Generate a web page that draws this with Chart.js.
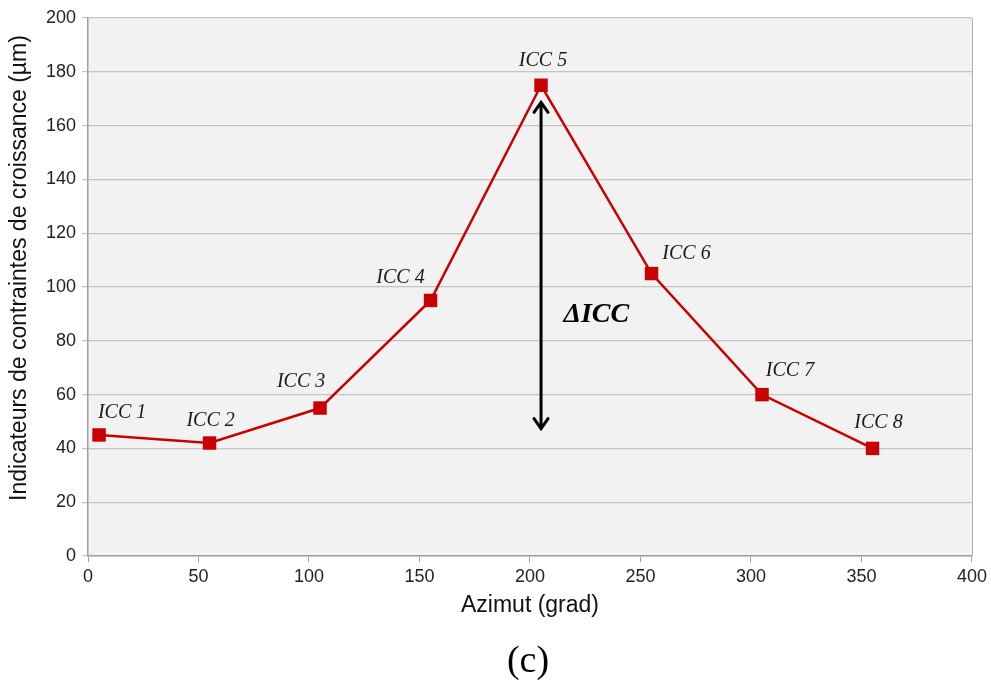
<!DOCTYPE html>
<html>
<head>
<meta charset="utf-8">
<script src="https://cdn.jsdelivr.net/npm/chart.js@4.4.0/dist/chart.umd.min.js"></script>
<style>
  html, body { margin: 0; padding: 0; background: #ffffff; }
  #wrap { width: 991px; height: 686px; position: relative; }
</style>
</head>
<body>
<div id="wrap"><canvas id="c" width="991" height="686"></canvas></div>
<script>
// ---- data ----
const azimuts = [5, 55, 105, 155, 205, 255, 305, 355];
const iccValues = [45, 42, 55, 95, 175, 105, 60, 40];
const iccLabels = ['ICC 1', 'ICC 2', 'ICC 3', 'ICC 4', 'ICC 5', 'ICC 6', 'ICC 7', 'ICC 8'];
const arrowX = 205;
const arrowTop = 169;
const arrowBottom = 47;
const deltaLabel = 'ΔICC';
const xTitle = 'Azimut (grad)';
const yTitle = 'Indicateurs de contraintes de croissance (µm)';
const caption = '(c)';

const RED = '#c80000';

const decorPlugin = {
  id: 'decor',
  beforeDraw(chart) {
    const { ctx, chartArea: a } = chart;
    ctx.save();
    ctx.fillStyle = '#f2f2f2';
    ctx.fillRect(a.left, a.top, a.right - a.left, a.bottom - a.top);
    ctx.restore();
  },
  afterDatasetsDraw(chart, args, opts) {
    const { ctx, chartArea: a, scales } = chart;
    const xs = scales.x, ys = scales.y;
    ctx.save();
    // right border
    ctx.strokeStyle = '#b0b0b0';
    ctx.lineWidth = 1;
    ctx.beginPath();
    ctx.moveTo(Math.round(a.right) + 0.5, a.top);
    ctx.lineTo(Math.round(a.right) + 0.5, a.bottom);
    ctx.stroke();

    // y title
    ctx.save();
    ctx.translate(20, 268);
    ctx.rotate(-Math.PI / 2);
    ctx.fillStyle = '#111';
    ctx.font = '23px "Liberation Sans", Arial, sans-serif';
    ctx.textAlign = 'center';
    ctx.textBaseline = 'middle';
    ctx.fillText(yTitle, 0, 0);
    ctx.restore();

    // point labels
    ctx.fillStyle = '#1a1a1a';
    ctx.font = 'italic 20px "Liberation Serif", "Times New Roman", serif';
    ctx.textAlign = 'center';
    ctx.textBaseline = 'middle';
    const offs = opts.labelOffsets;
    azimuts.forEach((az, i) => {
      const px = xs.getPixelForValue(az);
      const py = ys.getPixelForValue(iccValues[i]);
      ctx.fillText(iccLabels[i], px + offs[i][0], py + offs[i][1]);
    });

    // arrow
    const ax = xs.getPixelForValue(arrowX);
    const yT = ys.getPixelForValue(arrowTop);
    const yB = ys.getPixelForValue(arrowBottom);
    ctx.strokeStyle = '#000';
    ctx.lineWidth = 3;
    ctx.lineCap = 'round';
    ctx.lineJoin = 'miter';
    ctx.beginPath();
    ctx.moveTo(ax, yT + 2);
    ctx.lineTo(ax, yB - 2);
    ctx.stroke();
    const h = 11, w = 7;
    ctx.beginPath();
    ctx.moveTo(ax - w, yT + h);
    ctx.lineTo(ax, yT + 1);
    ctx.lineTo(ax + w, yT + h);
    ctx.stroke();
    ctx.beginPath();
    ctx.moveTo(ax - w, yB - h);
    ctx.lineTo(ax, yB - 1);
    ctx.lineTo(ax + w, yB - h);
    ctx.stroke();

    // delta label
    ctx.fillStyle = '#000';
    ctx.font = 'italic bold 28px "Liberation Serif", "Times New Roman", serif';
    ctx.textAlign = 'center';
    ctx.fillText(deltaLabel, xs.getPixelForValue(230), ys.getPixelForValue(89.5));

    // caption
    ctx.font = '38px "Liberation Serif", "Times New Roman", serif';
    ctx.fillStyle = '#000';
    ctx.fillText(caption, (a.left + a.right) / 2 - 2, 662);
    ctx.restore();
  }
};

new Chart(document.getElementById('c'), {
  type: 'scatter',
  data: {
    datasets: [{
      data: azimuts.map((x, i) => ({ x: x, y: iccValues[i] })),
      showLine: true,
      borderColor: RED,
      borderWidth: 2.5,
      backgroundColor: RED,
      pointStyle: 'rect',
      pointRadius: 9.5,
      pointHoverRadius: 9.5,
      pointBorderWidth: 0,
      tension: 0
    }]
  },
  options: {
    responsive: false,
    animation: false,
    events: [],
    layout: { padding: { top: 18, right: 19, bottom: 60, left: 0 } },
    plugins: {
      legend: { display: false },
      tooltip: { enabled: false },
      decor: {
        labelOffsets: [[23, -22], [1, -22], [-19, -26], [-30, -23], [2, -25], [35, -20], [28, -24], [6, -26]]
      }
    },
    scales: {
      x: {
        type: 'linear',
        min: 0, max: 400,
        afterFit(s) { s.height = 70; },
        ticks: { stepSize: 50, color: '#222', font: { family: '"Liberation Sans", Arial, sans-serif', size: 18 }, padding: 4, maxRotation: 0 },
        grid: { display: true, drawOnChartArea: false, drawTicks: true, tickLength: 6, color: '#a0a0a0' },
        border: { display: true, color: '#a0a0a0', width: 1.5 },
        title: { display: true, text: xTitle, color: '#111', font: { family: '"Liberation Sans", Arial, sans-serif', size: 23 }, padding: { top: 0, bottom: 7 } }
      },
      y: {
        type: 'linear',
        min: 0, max: 200,
        afterFit(s) { s.width = 88; },
        ticks: { stepSize: 20, color: '#222', font: { family: '"Liberation Sans", Arial, sans-serif', size: 18 }, padding: 6 },
        grid: { display: true, drawOnChartArea: true, drawTicks: true, tickLength: 6, color: '#c4c4c4', lineWidth: 1.2 },
        border: { display: true, color: '#a0a0a0', width: 1.5 },
        title: { display: false, text: yTitle }
      }
    }
  },
  plugins: [decorPlugin]
});
</script>
</body>
</html>
